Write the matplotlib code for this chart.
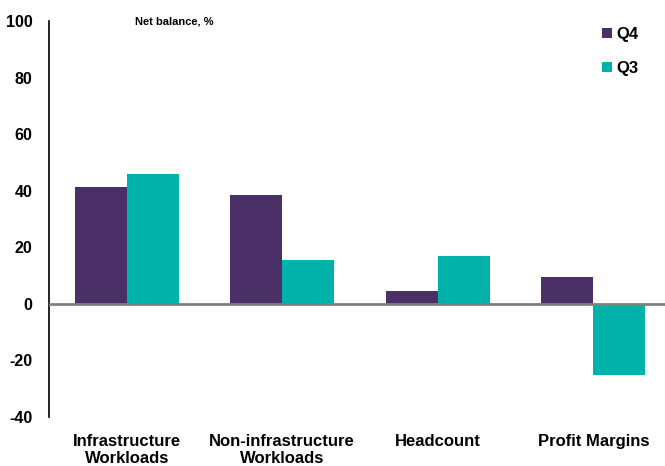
#!/usr/bin/env python3
"""Net balance bar chart: Q4 vs Q3 by category."""

import matplotlib
matplotlib.use("Agg")
import matplotlib.pyplot as plt
import numpy as np

categories = ["Infrastructure\nWorkloads", "Non-infrastructure\nWorkloads",
              "Headcount", "Profit Margins"]
q4_values = [41.4, 38.6, 4.6, 9.5]
q3_values = [45.8, 15.5, 16.9, -25.1]
series_labels = ["Q4", "Q3"]
y_ticks = [-40, -20, 0, 20, 40, 60, 80, 100]

PURPLE = "#4B3068"
TEAL = "#00B2AA"

plt.rcParams["font.family"] = ["Liberation Sans", "DejaVu Sans"]
plt.rcParams["font.weight"] = "bold"
plt.rcParams["axes.unicode_minus"] = False

fig = plt.figure(figsize=(6.65, 4.66), dpi=100)
ax = fig.add_axes([49 / 665, 1 - 417 / 466, 622 / 665, (417 - 21) / 466])

x = np.arange(len(categories))
w = 0.334
ax.bar(x - w / 2, q4_values, w, color=PURPLE, label=series_labels[0], zorder=2)
ax.bar(x + w / 2, q3_values, w, color=TEAL, label=series_labels[1], zorder=2)

ax.axhline(0, color="#808080", linewidth=2, zorder=3)

ax.set_xlim(-0.5, len(categories) - 0.5)
ax.set_ylim(-40, 100)
ax.set_yticks(y_ticks)
ax.set_xticks(x)
ax.set_xticklabels(categories, fontsize=12, fontweight="bold", linespacing=1.2)
ax.tick_params(axis="y", length=0, pad=12, labelsize=11.5)
ax.tick_params(axis="x", length=0, pad=12)
for lbl in ax.get_yticklabels():
    lbl.set_fontweight("bold")

for side in ["top", "right", "bottom"]:
    ax.spines[side].set_visible(False)
ax.spines["left"].set_color("black")
ax.spines["left"].set_linewidth(1.2)

fig.text(135 / 665, 1 - 21 / 466, "Net balance, %", fontsize=8,
         fontweight="bold", va="center", ha="left")

ax.legend(loc="upper left", bbox_to_anchor=(594 / 665, 1 - 19 / 466),
          bbox_transform=fig.transFigure, frameon=False, fontsize=12,
          handlelength=0.55, handleheight=0.55, handletextpad=0.3,
          labelspacing=1.1, borderpad=0)

fig.savefig("out.png", dpi=100)
